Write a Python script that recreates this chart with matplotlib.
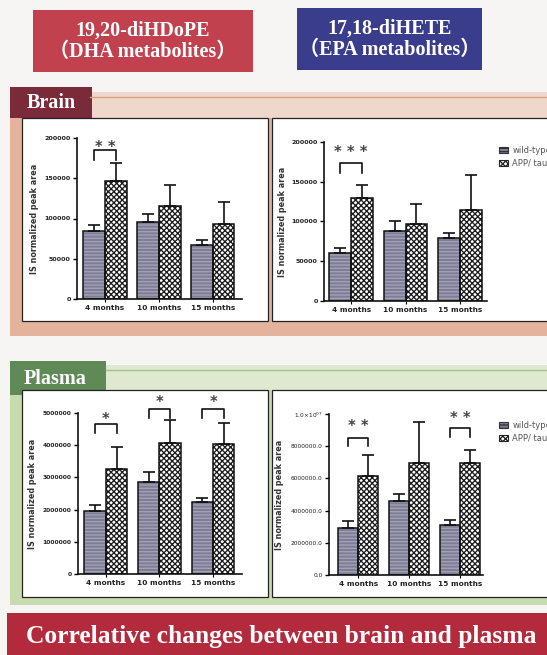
import numpy as np
import matplotlib
matplotlib.use('Agg')
import matplotlib.pyplot as plt
from matplotlib.patches import Rectangle, Patch

W, H = 547, 655

months = ['4 months', '10 months', '15 months']
groups = ['wild-type', 'APP/ tau']

# brain, 19,20-diHDoPE
brain_dha_wt = [85000, 96000, 67000]
brain_dha_wt_err = [7500, 9500, 6000]
brain_dha_app = [146000, 116000, 93000]
brain_dha_app_err = [22500, 26000, 27500]

# brain, 17,18-diHETE
brain_epa_wt = [60500, 87700, 79200]
brain_epa_wt_err = [6700, 12900, 6300]
brain_epa_app = [129600, 96500, 115000]
brain_epa_app_err = [15900, 26000, 43000]

# plasma, 19,20-diHDoPE
plasma_dha_wt = [1950000, 2850000, 2230000]
plasma_dha_wt_err = [200000, 310000, 130000]
plasma_dha_app = [3270000, 4070000, 4050000]
plasma_dha_app_err = [670000, 720000, 640000]

# plasma, 17,18-diHETE
plasma_epa_wt = [2950000, 4580000, 3130000]
plasma_epa_wt_err = [410000, 430000, 290000]
plasma_epa_app = [6120000, 6950000, 6950000]
plasma_epa_app_err = [1340000, 2580000, 820000]

# significance: (month index, stars, leg bottom, bracket top, star centre)
brain_dha_sig = [(0, '* *', 173000, 185500, 193000)]
brain_epa_sig = [(0, '* * *', 160600, 173000, 192000)]
plasma_dha_sig = [(0, '*', 4.39e6, 4.67e6, 4.92e6),
                  (1, '*', 4.85e6, 5.13e6, 5.45e6),
                  (2, '*', 4.85e6, 5.13e6, 5.45e6)]
plasma_epa_sig = [(0, '* *', 8.0e6, 8.5e6, 9.5e6),
                  (2, '* *', 8.57e6, 9.13e6, 1.0e7)]

brain_ticks = [0, 50000, 100000, 150000, 200000]
plasma_dha_ticks = [0, 1000000, 2000000, 3000000, 4000000, 5000000]
plasma_epa_ticks = [0, 2000000, 4000000, 6000000, 8000000, 10000000]
plasma_epa_ticklabels = ['0.0', '2000000.0', '4000000.0', '6000000.0',
                         '8000000.0', r'$1.0{\times}10^{07}$']

WT_FACE, WT_HATCH = '#7f7d96', '#a3a2b6'
APP_FACE, APP_HATCH = 'white', '#1c1c1c'

plt.rcParams['hatch.linewidth'] = 0.95

fig = plt.figure(figsize=(W / 100, H / 100), dpi=100)
fig.patch.set_facecolor('#f7f5f3')

# background layer in pixel coordinates
bg = fig.add_axes([0, 0, 1, 1])
bg.set_xlim(0, W)
bg.set_ylim(H, 0)
bg.axis('off')


def box(x0, y0, x1, y1, fc, ec='none', lw=0):
    bg.add_patch(Rectangle((x0, y0), x1 - x0, y1 - y0, facecolor=fc,
                           edgecolor=ec, linewidth=lw))


serif = ['Liberation Serif', 'Noto Sans CJK JP']

# header boxes
box(33, 10, 253, 72, '#c2414f')
bg.text(143, 41, '19,20-diHDoPE\n（DHA metabolites）', color='white',
        family=serif, weight='bold', fontsize=14.5, ha='center', va='center',
        linespacing=1.1)
box(297, 8, 482, 70, '#3a3c8c')
bg.text(390, 39, '17,18-diHETE\n（EPA metabolites）', color='white',
        family=serif, weight='bold', fontsize=14.5, ha='center', va='center',
        linespacing=1.1)

# brain panel
box(10, 97, W, 336, '#e4b39c')
box(90, 92, W, 118, '#efd8cb')
bg.plot([90, W], [97, 97], color='#d9a07c', lw=1)
box(10, 87, 92, 118, '#7b2a39')
bg.text(51, 103, 'Brain', color='white', family=serif, weight='bold',
        fontsize=14.5, ha='center', va='center')
box(22, 118, 268, 321, 'white', '#222', 0.9)
box(272, 118, 560, 321, 'white', '#222', 0.9)

# plasma panel
box(10, 368, W, 605, '#c8dbae')
box(106, 365, W, 390, '#dfe9cf')
bg.plot([106, W], [370, 370], color='#a8bf8c', lw=1)
box(10, 361, 106, 395, '#5f8a57')
bg.text(55, 379, 'Plasma', color='white', family=serif, weight='bold',
        fontsize=14.5, ha='center', va='center')
box(22, 390, 268, 597, 'white', '#222', 0.9)
box(272, 390, 560, 597, 'white', '#222', 0.9)

# bottom banner
box(7, 613, W, H, '#b32a3d')
bg.text(281, 636, 'Correlative changes between brain and plasma', color='white',
        family='Liberation Serif', weight='bold', fontsize=18.4,
        ha='center', va='center')


def bar_panel(px, xlim, ymax, ticks, ticklabels, lab_x,
              wt, wt_err, app, app_err, sig, legend=None, tick_fs=4.6,
              tick_weight='bold'):
    x0, y0, x1, y1 = px
    ax = fig.add_axes([x0 / W, 1 - y1 / H, (x1 - x0) / W, (y1 - y0) / H])
    ax.patch.set_alpha(0)
    x = np.arange(len(months))
    w = 0.4
    ax.bar(x - w / 2, wt, w, color=WT_FACE, hatch='-----', edgecolor=WT_HATCH,
           lw=0, zorder=2)
    ax.bar(x - w / 2, wt, w, fill=False, edgecolor='#111', lw=1.1, zorder=3)
    ax.bar(x + w / 2, app, w, color=APP_FACE, hatch='xxxxxx',
           edgecolor=APP_HATCH, lw=0, zorder=2)
    ax.bar(x + w / 2, app, w, fill=False, edgecolor='#111', lw=1.1, zorder=3)
    for xs, v, e in [(x - w / 2, wt, wt_err), (x + w / 2, app, app_err)]:
        ax.errorbar(xs, v, yerr=[np.zeros(len(v)), e], fmt='none',
                    ecolor='#111', elinewidth=1.2, capsize=4, capthick=1.2,
                    zorder=4)
    for i, stars, leg, top, sy in sig:
        a, b = i - w / 2, i + w / 2
        ax.plot([a, a, b, b], [leg, top, top, leg], color='#111', lw=1.2,
                clip_on=False, zorder=5)
        ax.annotate(stars, (i, sy), xytext=(0, -6.3), textcoords='offset points',
                    ha='center', va='baseline', fontsize=10.5, weight='bold',
                    color='#444', annotation_clip=False)
    ax.set_xlim(*xlim)
    ax.set_ylim(0, ymax)
    ax.set_xticks(x)
    ax.set_xticklabels(months, fontsize=5.3, weight='bold', color='#222')
    ax.set_yticks(ticks)
    ax.set_yticklabels(ticklabels, fontsize=tick_fs, weight=tick_weight,
                       color='#222')
    ax.tick_params(axis='y', length=3, width=1, pad=1.5)
    ax.tick_params(axis='x', length=2, width=0.8, pad=2)
    for s in ['top', 'right']:
        ax.spines[s].set_visible(False)
    for s in ['left', 'bottom']:
        ax.spines[s].set_linewidth(1.2)
        ax.spines[s].set_color('#111')
    ax.set_ylabel('IS normalized peak area', fontsize=5.8, weight='bold',
                  color='#333')
    ax.yaxis.set_label_coords(lab_x, 0.5)
    if legend:
        handles = [Patch(facecolor=WT_FACE, edgecolor='#333', hatch='-----', lw=0.8),
                   Patch(facecolor=APP_FACE, edgecolor='#222', hatch='xxxxxx', lw=0.8)]
        ax.legend(handles, groups, loc='upper left', bbox_to_anchor=legend,
                  bbox_transform=fig.transFigure, frameon=False, fontsize=6,
                  handlelength=1.1, handleheight=0.8, handletextpad=0.5,
                  labelspacing=0.45, borderaxespad=0, borderpad=0,
                  labelcolor='#555')
    return ax


bar_panel((77, 138, 242, 299), (-0.52, 2.54), 200000, brain_ticks,
          [str(t) for t in brain_ticks], -0.23,
          brain_dha_wt, brain_dha_wt_err, brain_dha_app, brain_dha_app_err,
          brain_dha_sig)
bar_panel((324, 142, 487, 301), (-0.5, 2.5), 200000, brain_ticks,
          [str(t) for t in brain_ticks], -0.227,
          brain_epa_wt, brain_epa_wt_err, brain_epa_app, brain_epa_app_err,
          brain_epa_sig, legend=(499 / W, 1 - 146 / H))
bar_panel((78, 413, 242, 574), (-0.52, 2.54), 5000000, plasma_dha_ticks,
          [str(t) for t in plasma_dha_ticks], -0.25,
          plasma_dha_wt, plasma_dha_wt_err, plasma_dha_app, plasma_dha_app_err,
          plasma_dha_sig, tick_fs=4.3)
bar_panel((329, 414, 483, 575), (-0.57, 2.45), 10000000, plasma_epa_ticks,
          plasma_epa_ticklabels, -0.29,
          plasma_epa_wt, plasma_epa_wt_err, plasma_epa_app, plasma_epa_app_err,
          plasma_epa_sig, legend=(499 / W, 1 - 421 / H), tick_fs=4.2,
          tick_weight='normal')

fig.savefig('out.png', dpi=100, facecolor=fig.get_facecolor())
